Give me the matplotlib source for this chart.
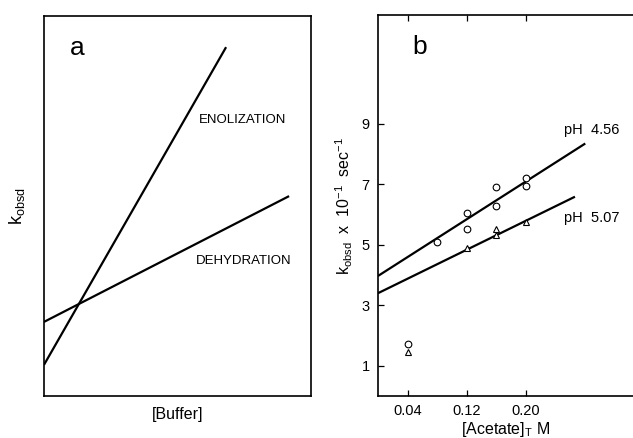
"""Buffer catalysis plots: schematic k_obsd vs [Buffer] (a) and acetate data (b)."""
import matplotlib
matplotlib.use("Agg")
import matplotlib.pyplot as plt

plt.rcParams['font.family'] = ['Liberation Sans', 'DejaVu Sans']
plt.rcParams['mathtext.fontset'] = 'custom'
plt.rcParams['mathtext.rm'] = 'Liberation Sans'
plt.rcParams['mathtext.it'] = 'Liberation Sans'

# Panel a: schematic lines, axes-fraction units
ENOL_X = [0.0, 0.682]
ENOL_Y = [0.082, 0.918]
DEHYD_X = [0.0, 0.918]
DEHYD_Y = [0.195, 0.526]

# Panel b: acetate buffer, k_obsd x 10^-1 sec^-1
CONC_456 = [0.04, 0.08, 0.12, 0.12, 0.16, 0.16, 0.20, 0.20]
KOBS_456 = [1.72, 5.10, 6.04, 5.51, 6.91, 6.28, 7.22, 6.95]
CONC_507 = [0.04, 0.12, 0.16, 0.16, 0.20]
KOBS_507 = [1.45, 4.90, 5.51, 5.32, 5.76]
FIT_456_X = [0.0, 0.281]
FIT_456_Y = [3.97, 8.35]
FIT_507_X = [0.0, 0.267]
FIT_507_Y = [3.40, 6.59]

X_TICKS = [0.04, 0.12, 0.20]
X_TICK_LABELS = ['0.04', '0.12', '0.20']
Y_TICKS = [1, 3, 5, 7, 9]

fig = plt.figure(figsize=(6.33, 4.38), dpi=100)

# ---- panel a ----
ax1 = fig.add_axes([0.0695, 0.0959, 0.4218, 0.8676])
ax1.plot(ENOL_X, ENOL_Y, color='black', lw=1.6, solid_capstyle='butt')
ax1.plot(DEHYD_X, DEHYD_Y, color='black', lw=1.6, solid_capstyle='butt')
ax1.set_xlim(0, 1)
ax1.set_ylim(0, 1)
ax1.set_xticks([])
ax1.set_yticks([])
for sp in ax1.spines.values():
    sp.set_linewidth(1.2)
ax1.text(0.124, 0.916, 'a', fontsize=19, ha='center', va='center')
ax1.text(0.742, 0.726, 'ENOLIZATION', fontsize=9.5, ha='center', va='center')
ax1.text(0.747, 0.355, 'DEHYDRATION', fontsize=9.5, ha='center', va='center')
ax1.set_xlabel('[Buffer]', fontsize=11.5, labelpad=8)
ax1.set_ylabel('k$_{\\mathrm{obsd}}$', fontsize=13, labelpad=12)

# ---- panel b ----
ax2 = fig.add_axes([0.5972, 0.0959, 0.4028, 0.8699])
ax2.plot(FIT_456_X, FIT_456_Y, color='black', lw=1.6, solid_capstyle='butt')
ax2.plot(FIT_507_X, FIT_507_Y, color='black', lw=1.6, solid_capstyle='butt')
ax2.plot(CONC_456, KOBS_456, 'o', ms=4.8, mfc='white', mec='black', mew=0.8)
ax2.plot(CONC_507, KOBS_507, '^', ms=4.8, mfc='white', mec='black', mew=0.8)
ax2.set_xlim(0, 0.3457)
ax2.set_ylim(0, 12.6)
ax2.set_xticks(X_TICKS)
ax2.set_xticklabels(X_TICK_LABELS)
ax2.set_yticks(Y_TICKS)
ax2.tick_params(axis='both', direction='in', length=4, width=0.9,
                labelsize=10.5, top=True, right=False)
ax2.tick_params(axis='x', pad=6)
ax2.tick_params(axis='y', pad=6)
ax2.spines['right'].set_visible(False)
for side in ('left', 'top', 'bottom'):
    ax2.spines[side].set_linewidth(1.2)
ax2.text(0.057, 11.54, 'b', fontsize=19, ha='center', va='center')
ax2.text(0.29, 8.8, 'pH  4.56', fontsize=10.5, ha='center', va='center')
ax2.text(0.29, 5.9, 'pH  5.07', fontsize=10.5, ha='center', va='center')
ax2.set_xlabel('[Acetate]$_{\\mathrm{T}}$ M', fontsize=11.5, labelpad=1)
ax2.set_ylabel('k$_{\\mathrm{obsd}}$  x  10$^{-1}$  sec$^{-1}$', fontsize=11.5, labelpad=5)

fig.savefig('out.png', dpi=100)
